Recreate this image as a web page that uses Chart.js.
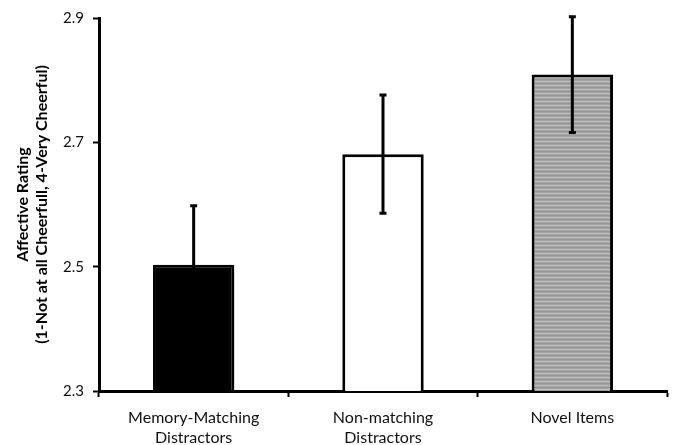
<!DOCTYPE html>
<html lang="en">
<head>
    <meta charset="UTF-8">
    <title>Affective Rating</title>
    <script src="https://cdn.jsdelivr.net/npm/chart.js"></script>
    <style>
        body {
            margin: 0;
            background-color: #fff;
        }
        .wrap {
            width: 674px;
            height: 445px;
        }
    </style>
</head>
<body>
    <div class="wrap">
        <canvas id="ratingChart" width="674" height="445"></canvas>
    </div>
    <script>
        // data
        const categories = [['Memory-Matching', 'Distractors'], ['Non-matching', 'Distractors'], 'Novel Items'];
        const means = [2.503, 2.681, 2.809];
        const errors = [0.095, 0.095, 0.093];
        const yTicks = [2.3, 2.5, 2.7, 2.9];

        const FONT = 'Lato, "Open Sans", sans-serif';

        // striped grey fill for the third bar
        function stripePattern() {
            const c = document.createElement('canvas');
            c.width = 8;
            c.height = 4;
            const g = c.getContext('2d');
            g.fillStyle = '#a3a3a3';
            g.fillRect(0, 0, 8, 4);
            g.fillStyle = '#bdbdbd';
            g.fillRect(0, 1, 8, 1);
            g.fillStyle = '#979797';
            g.fillRect(0, 3, 8, 1);
            return g.createPattern(c, 'repeat');
        }

        // draws the error bars with the chart's own scales
        const errorBars = {
            id: 'errorBars',
            afterDatasetsDraw(chart) {
                const ctx = chart.ctx;
                const x = chart.scales.x;
                const y = chart.scales.y;
                ctx.save();
                ctx.strokeStyle = '#000';
                ctx.lineWidth = 3;
                means.forEach((m, i) => {
                    const px = x.getPixelForValue(i);
                    const top = y.getPixelForValue(m + errors[i]);
                    const bot = y.getPixelForValue(m - errors[i]);
                    ctx.beginPath();
                    ctx.moveTo(px, top);
                    ctx.lineTo(px, bot);
                    ctx.moveTo(px - 3.5, top);
                    ctx.lineTo(px + 3.5, top);
                    ctx.moveTo(px - 3.5, bot);
                    ctx.lineTo(px + 3.5, bot);
                    ctx.stroke();
                });
                ctx.restore();
            }
        };

        const ctx = document.getElementById('ratingChart').getContext('2d');
        new Chart(ctx, {
            type: 'bar',
            data: {
                labels: categories,
                datasets: [{
                    data: means,
                    backgroundColor: ['#000', '#fff', stripePattern()],
                    borderColor: '#000',
                    borderWidth: 3,
                    borderSkipped: 'bottom',
                    barPercentage: 0.43,
                    categoryPercentage: 1
                }]
            },
            options: {
                responsive: false,
                animation: false,
                layout: {
                    padding: { top: 13, right: 7, left: 0, bottom: 0 }
                },
                plugins: {
                    legend: { display: false },
                    tooltip: { enabled: false }
                },
                scales: {
                    x: {
                        grid: {
                            display: true,
                            drawOnChartArea: false,
                            offset: true,
                            tickLength: 6,
                            tickWidth: 2,
                            tickColor: '#000'
                        },
                        border: { color: '#000', width: 3 },
                        ticks: {
                            color: '#111',
                            font: { family: FONT, size: 16, lineHeight: 1.25 },
                            padding: 11,
                            maxRotation: 0
                        },
                        afterFit(scale) {
                            scale.height = 54;
                        }
                    },
                    y: {
                        min: 2.3,
                        max: 2.9,
                        afterBuildTicks(scale) {
                            scale.ticks = yTicks.map(v => ({ value: v }));
                        },
                        grid: {
                            display: true,
                            drawOnChartArea: false,
                            tickLength: 6,
                            tickWidth: 2,
                            tickColor: '#000'
                        },
                        border: { color: '#000', width: 3 },
                        ticks: {
                            color: '#111',
                            font: { family: FONT, size: 15 },
                            padding: 9,
                            callback: v => v.toFixed(1)
                        },
                        title: {
                            display: true,
                            text: ['Affective Rating', '(1-Not at all Cheerfull, 4-Very Cheerful)'],
                            color: '#000',
                            font: { family: FONT, size: 16, weight: 'bold', lineHeight: 1.15 },
                            padding: { top: 14, bottom: 0 }
                        },
                        afterFit(scale) {
                            scale.width = 99;
                        }
                    }
                }
            },
            plugins: [errorBars]
        });
    </script>
</body>
</html>
